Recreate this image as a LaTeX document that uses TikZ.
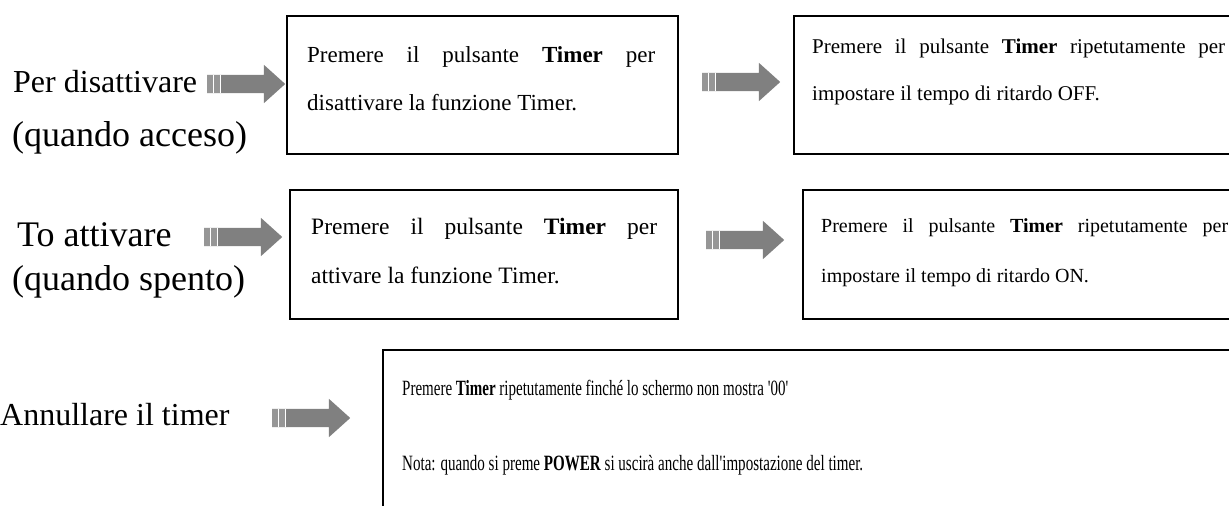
\documentclass[tikz,border=0pt]{standalone}
\usepackage{fontspec}
\setmainfont{Liberation Serif}[Ligatures=TeXOff]
\usetikzlibrary{shapes.arrows}
\definecolor{arrowgray}{RGB}{128,128,128}
\definecolor{tailgray}{RGB}{150,150,150}
\tikzset{
  lbl/.style={anchor=base west, inner sep=0pt, font=\fontsize{32}{32}\selectfont},
  lblbig/.style={anchor=base west, inner sep=0pt, font=\fontsize{36}{36}\selectfont},
  txt/.style={anchor=base west, inner sep=0pt},
  stepbox/.style={draw=black, line width=1.8pt, fill=none, inner sep=0pt, anchor=north west},
  blockarrow/.style={single arrow, fill=arrowgray, draw=none, inner xsep=0pt, inner ysep=9pt,
    minimum height=78pt, single arrow head extend=10pt, single arrow head indent=0pt,
    single arrow tip angle=84, anchor=tail},
}
\newcommand\tailstripes[1]{%
  \fill[tailgray] ([yshift=9pt]#1.tail) rectangle ([xshift=13pt,yshift=-9pt]#1.tail);
  \draw[white, line width=0.9pt] ([xshift=6.5pt,yshift=9pt]#1.tail) -- ([xshift=6.5pt,yshift=-9pt]#1.tail);
  \draw[white, line width=0.9pt] ([xshift=13pt,yshift=9pt]#1.tail) -- ([xshift=13pt,yshift=-9pt]#1.tail);
}
\begin{document}
\begin{tikzpicture}[x=1pt,y=-1pt]
\useasboundingbox[fill=white] (0,0) rectangle (1229,506);
\clip (0,0) rectangle (1229,506);

% left labels
\node[lbl] (l1a) at (13,92) {Per disattivare};
\node[lblbig] (l1b) at (12,146) {(quando acceso)};
\node[lblbig] (l2a) at (17,246) {To attivare};
\node[lblbig] (l2b) at (12,290) {(quando spento)};
\node[lbl] (l3) at (0,425) {Annullare il timer};

% boxes
\node[stepbox, minimum width=391pt, minimum height=138pt] (b1) at (286,15) {};
\node[stepbox, minimum width=460pt, minimum height=138pt] (b2) at (793,15) {};
\node[stepbox, minimum width=388pt, minimum height=129pt] (b3) at (289,189) {};
\node[stepbox, minimum width=450pt, minimum height=129pt] (b4) at (802,189) {};
\node[stepbox, minimum width=870pt, minimum height=200pt] (b5) at (382,349) {};

% box texts
\begin{scope}[every node/.style={txt}]
\node[font=\fontsize{23}{23}\selectfont] (t1a) at (307,62) {\makebox[348pt][s]{Premere il pulsante \textbf{Timer} per}};
\node[font=\fontsize{23}{23}\selectfont] (t1b) at (307,110) {disattivare la funzione Timer.};
\node[font=\fontsize{21}{21}\selectfont] (t2a) at (812,53) {\makebox[413pt][s]{Premere il pulsante \textbf{Timer} ripetutamente per}};
\node[font=\fontsize{21}{21}\selectfont] (t2b) at (812,100) {impostare il tempo di ritardo OFF.};
\node[font=\fontsize{23.5}{23.5}\selectfont] (t3a) at (311,234) {\makebox[346pt][s]{Premere il pulsante \textbf{Timer} per}};
\node[font=\fontsize{23.5}{23.5}\selectfont] (t3b) at (311,283) {attivare la funzione Timer.};
\node[font=\fontsize{20}{20}\selectfont] (t4a) at (821,232) {\makebox[407pt][s]{Premere il pulsante \textbf{Timer} ripetutamente per}};
\node[font=\fontsize{20}{20}\selectfont] (t4b) at (821,282) {impostare il tempo di ritardo ON.};
\node[font=\fontsize{22}{22}\selectfont] (t5a) at (402,395) {\resizebox{386pt}{!}{\scalebox{1}[1.45]{Premere \textbf{Timer} ripetutamente finché lo schermo non mostra '00'}}};
\node[font=\fontsize{22}{22}\selectfont] (t5b) at (402,470) {\resizebox{461pt}{!}{\scalebox{1}[1.45]{Nota: quando si preme \textbf{POWER} si uscirà anche dall'impostazione del timer.}}};
\end{scope}

% block arrows
\node[blockarrow] (a1) at (207,84) {};
\node[blockarrow] (a2) at (702,82) {};
\node[blockarrow] (a3) at (204,237) {};
\node[blockarrow] (a4) at (706,240) {};
\node[blockarrow] (a5) at (272,418) {};
\tailstripes{a1}
\tailstripes{a2}
\tailstripes{a3}
\tailstripes{a4}
\tailstripes{a5}
\end{tikzpicture}
\end{document}
